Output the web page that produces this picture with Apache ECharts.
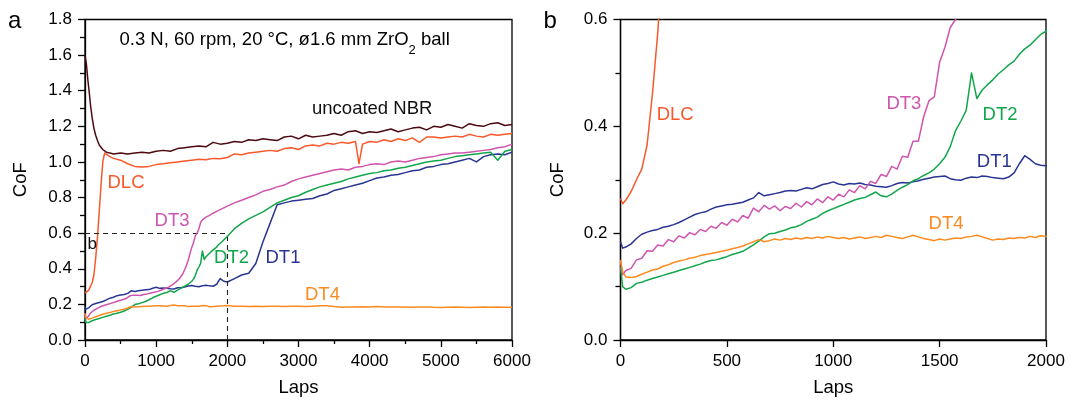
<!DOCTYPE html>
<html><head><meta charset="utf-8">
<script src="https://cdn.jsdelivr.net/npm/echarts@6/dist/echarts.min.js"></script>
<style>html,body{margin:0;padding:0;background:#fff}#c{width:1070px;height:402px}</style>
</head><body><div id="c"></div>
<script>
// ---------- DATA ----------
const lapsDT = [
0,10,25,50,75,100,125,150,175,200,
225,250,275,300,325,350,375,400,425,450,
475,500,525,550,575,600,625,650,675,700,
725,750,775,800,825,850,875,900,925,950,
975,1000,1025,1050,1075,1100,1125,1150,1175,1200,
1225,1250,1275,1300,1325,1350,1375,1400,1425,1450,
1475,1500,1525,1550,1575,1600,1625,1650,1675,1700,
1725,1750,1775,1800,1825,1850,1875,1900,1925,1950,
1975,2000,2100,2200,2300,2400,2500,2600,2700,2800,
2900,3000,3100,3200,3300,3400,3500,3600,3700,3800,
3900,4000,4100,4200,4300,4400,4500,4600,4700,4800,
4900,5000,5100,5200,5300,5400,5500,5600,5700,5800,
5900,6000];
const dt1 = [
0.184,0.172,0.174,0.180,0.190,0.198,0.202,0.205,0.207,0.211,
0.213,0.216,0.220,0.225,0.230,0.235,0.238,0.240,0.245,0.249,
0.251,0.253,0.254,0.256,0.258,0.262,0.266,0.276,0.270,0.272,
0.274,0.276,0.279,0.280,0.279,0.282,0.285,0.283,0.287,0.291,
0.293,0.296,0.292,0.290,0.293,0.292,0.294,0.291,0.290,0.288,
0.287,0.286,0.289,0.293,0.295,0.294,0.296,0.298,0.301,0.303,
0.305,0.306,0.307,0.302,0.300,0.299,0.303,0.305,0.304,0.307,
0.306,0.304,0.303,0.302,0.305,0.313,0.330,0.345,0.338,0.330,
0.327,0.326,0.345,0.365,0.375,0.430,0.550,0.655,0.760,0.770,
0.780,0.785,0.790,0.795,0.810,0.820,0.840,0.850,0.860,0.870,
0.880,0.895,0.910,0.915,0.925,0.930,0.940,0.950,0.955,0.970,
0.975,0.985,0.990,1.000,1.010,1.020,1.000,1.030,1.040,1.045,
1.040,1.055];
const dt2 = [
0.137,0.100,0.095,0.098,0.106,0.108,0.112,0.115,0.118,0.121,
0.124,0.127,0.130,0.133,0.136,0.139,0.142,0.146,0.149,0.150,
0.153,0.156,0.160,0.163,0.166,0.172,0.178,0.185,0.193,0.199,
0.200,0.203,0.206,0.210,0.212,0.216,0.222,0.226,0.230,0.237,
0.242,0.246,0.250,0.254,0.258,0.262,0.265,0.267,0.272,0.277,
0.270,0.268,0.273,0.280,0.286,0.291,0.298,0.302,0.308,0.313,
0.320,0.330,0.342,0.362,0.392,0.410,0.430,0.500,0.452,0.468,
0.478,0.487,0.498,0.506,0.515,0.522,0.535,0.545,0.552,0.562,
0.572,0.578,0.625,0.655,0.680,0.700,0.720,0.745,0.770,0.785,
0.800,0.810,0.830,0.845,0.860,0.870,0.880,0.890,0.905,0.915,
0.925,0.935,0.940,0.950,0.955,0.965,0.970,0.980,0.990,1.000,
1.005,1.010,1.020,1.030,1.035,1.040,1.045,1.050,1.055,1.010,
1.060,1.070];
const dt3 = [
0.148,0.122,0.130,0.134,0.150,0.153,0.167,0.166,0.178,0.176,
0.188,0.184,0.195,0.191,0.201,0.197,0.207,0.203,0.213,0.209,
0.220,0.215,0.226,0.221,0.233,0.228,0.247,0.240,0.252,0.245,
0.251,0.242,0.250,0.246,0.256,0.249,0.259,0.253,0.264,0.257,
0.268,0.262,0.273,0.268,0.281,0.276,0.289,0.283,0.297,0.293,
0.310,0.306,0.325,0.320,0.344,0.342,0.372,0.372,0.418,0.448,
0.455,0.520,0.548,0.585,0.600,0.625,0.660,0.675,0.680,0.690,
0.695,0.700,0.705,0.712,0.718,0.722,0.728,0.732,0.738,0.742,
0.748,0.752,0.770,0.785,0.800,0.815,0.835,0.845,0.860,0.870,
0.890,0.905,0.915,0.925,0.935,0.945,0.955,0.960,0.955,0.970,
0.975,0.985,0.990,0.985,1.000,1.005,1.000,1.010,1.020,1.025,
1.030,1.040,1.045,1.050,1.050,1.055,1.060,1.065,1.070,1.080,
1.085,1.100];
const dt4 = [
0.150,0.128,0.118,0.117,0.119,0.123,0.127,0.131,0.133,0.138,
0.141,0.145,0.148,0.150,0.153,0.155,0.158,0.160,0.162,0.164,
0.166,0.168,0.171,0.173,0.176,0.180,0.184,0.188,0.184,0.186,
0.189,0.187,0.190,0.188,0.191,0.189,0.192,0.190,0.193,0.191,
0.194,0.192,0.190,0.192,0.189,0.191,0.193,0.190,0.192,0.194,
0.192,0.196,0.194,0.192,0.190,0.193,0.196,0.193,0.190,0.188,
0.186,0.189,0.187,0.189,0.191,0.190,0.193,0.194,0.196,0.193,
0.190,0.187,0.189,0.188,0.191,0.190,0.192,0.191,0.194,0.192,
0.195,0.194,0.190,0.190,0.188,0.190,0.188,0.189,0.190,0.188,
0.190,0.190,0.188,0.190,0.192,0.193,0.188,0.184,0.186,0.185,
0.187,0.186,0.188,0.185,0.186,0.185,0.186,0.184,0.185,0.186,
0.184,0.183,0.184,0.185,0.184,0.183,0.184,0.185,0.184,0.185,
0.184,0.184];
const lapsNBR = [0,20,40,60,80,100,125,150,175,200,250,300,350,400,
500,600,700,800,900,1000,1100,1200,1300,1400,
1500,1600,1700,1800,1900,2000,2100,2200,2300,2400,
2500,2600,2700,2800,2900,3000,3100,3200,3300,3400,
3500,3600,3700,3800,3900,4000,4100,4200,4300,4400,
4500,4600,4700,4800,4900,5000,5100,5200,5300,5400,
5500,5600,5700,5800,5900,6000];
const nbr = [1.600,1.550,1.460,1.390,1.310,1.250,1.190,1.150,1.120,1.095,1.070,1.055,1.050,1.045,
1.050,1.045,1.050,1.055,1.050,1.060,1.065,1.060,1.075,1.080,
1.085,1.090,1.085,1.110,1.100,1.105,1.115,1.110,1.125,1.120,
1.130,1.125,1.120,1.140,1.145,1.130,1.150,1.140,1.145,1.150,
1.160,1.150,1.170,1.175,1.160,1.170,1.165,1.175,1.185,1.170,
1.180,1.190,1.195,1.180,1.200,1.195,1.210,1.200,1.190,1.215,
1.205,1.200,1.215,1.220,1.205,1.210];
const lapsDLC = [0,10,25,50,75,100,125,150,175,200,225,250,275,300,350,400,
500,600,700,800,900,1000,1100,1200,1300,1400,
1500,1600,1700,1800,1900,2000,2100,2200,2300,2400,
2500,2600,2700,2800,2900,3000,3100,3200,3300,3400,
3500,3600,3700,3800,3850,
3900,4000,4100,4200,4300,4400,4500,4600,4700,4800,
4900,5000,5100,5200,5300,5400,5500,5600,5700,5800,
5900,6000];
const dlc = [0.265,0.255,0.262,0.278,0.300,0.320,0.365,0.460,0.575,0.720,0.870,1.000,1.050,1.045,1.030,1.020,
1.010,0.990,0.975,0.972,0.975,0.985,0.990,0.995,1.000,1.005,
1.010,1.015,1.012,1.020,1.018,1.025,1.045,1.040,1.050,1.055,
1.060,1.065,1.060,1.075,1.080,1.070,1.090,1.095,1.090,1.105,
1.100,1.110,1.105,1.115,0.990,
1.100,1.115,1.110,1.125,1.115,1.130,1.120,1.135,1.110,1.140,
1.140,1.135,1.140,1.145,1.140,1.155,1.145,1.140,1.155,1.150,
1.155,1.160];

// zoomed window shown in panel b (dashed box in panel a)
const zoomLaps = 2000, zoomCoF = 0.6;

// in-plot labels: [text, laps, CoF, colorKey]
const labelsA = [
  ['uncoated NBR', 3190, 1.30, 'black'],
  ['DLC', 316, 0.88, 'DLC'],
  ['DT3', 977, 0.669, 'DT3'],
  ['DT2', 1813, 0.462, 'DT2'],
  ['DT1', 2536, 0.462, 'DT1'],
  ['DT4', 3091, 0.256, 'DT4']
];
const labelsB = [
  ['DLC', 170, 0.422, 'DLC'],
  ['DT3', 1250, 0.442, 'DT3'],
  ['DT2', 1702, 0.422, 'DT2'],
  ['DT1', 1675, 0.334, 'DT1'],
  ['DT4', 1448, 0.218, 'DT4']
];
const zoomMark = ['b', 35, 0.539];
const conditions = '0.3 N, 60 rpm, 20 °C, ø1.6 mm ZrO{sub|2} ball';

// ---------- STYLE ----------
const FONT = "'Liberation Sans', Arial, Helvetica, sans-serif";
const colors = {black:'#111', NBR:'#4d0a12', DLC:'#f9582a', DT1:'#2a3593', DT2:'#12a64b', DT3:'#cf55ae', DT4:'#fb8b20'};
const seriesDefs = [
  {key:'NBR', laps:lapsNBR, vals:nbr},
  {key:'DLC', laps:lapsDLC, vals:dlc},
  {key:'DT1', laps:lapsDT, vals:dt1},
  {key:'DT2', laps:lapsDT, vals:dt2},
  {key:'DT3', laps:lapsDT, vals:dt3},
  {key:'DT4', laps:lapsDT, vals:dt4}
];
function pairs(xs, ys){ return xs.map((x,i)=>[x, ys[i]]); }

const axLine = {show:true, onZero:false, lineStyle:{color:'#000', width:1.3}};
function xAx(g, max, interval, minor){
  return {type:'value', gridIndex:g, min:0, max:max, interval:interval,
    axisLine:axLine,
    axisTick:{show:true, inside:false, length:7, lineStyle:{color:'#000', width:1.3}},
    minorTick:{show:minor, splitNumber:2, length:4, lineStyle:{color:'#000', width:1.3}},
    splitLine:{show:false}, minorSplitLine:{show:false},
    axisLabel:{color:'#000', fontSize:17, fontFamily:FONT, margin:13, showMinLabel:true, showMaxLabel:true, hideOverlap:false,
      formatter:function(v){return String(Math.round(v));}},
    name:'Laps', nameLocation:'middle', nameGap:38,
    nameTextStyle:{color:'#000', fontSize:18.5, fontFamily:FONT}};
}
function yAx(g, max, gap){
  return {type:'value', gridIndex:g, min:0, max:max, interval:0.2,
    axisLine:axLine,
    axisTick:{show:true, inside:false, length:7, lineStyle:{color:'#000', width:1.3}},
    minorTick:{show:true, splitNumber:2, length:5, lineStyle:{color:'#000', width:1.3}},
    splitLine:{show:false}, minorSplitLine:{show:false},
    axisLabel:{color:'#000', fontSize:17, fontFamily:FONT, margin:13, showMinLabel:true, showMaxLabel:true, hideOverlap:false,
      formatter:function(v){return v.toFixed(1);}},
    name:'CoF', nameLocation:'middle', nameGap:gap,
    nameTextStyle:{color:'#000', fontSize:18.5, fontFamily:FONT}};
}

const series = [];
[0,1].forEach(function(g){
  seriesDefs.forEach(function(d, i){
    const s = {type:'line', xAxisIndex:g, yAxisIndex:g, data:pairs(d.laps, d.vals),
      showSymbol:false, symbol:'none', silent:true, animation:false, clip:true, z:2+i,
      lineStyle:{color:colors[d.key], width:1.5, join:'round'}, itemStyle:{color:colors[d.key]}};
    if (g===0 && i===0){
      s.markLine = {silent:true, symbol:['none','none'], animation:false, label:{show:false},
        lineStyle:{type:[5,4], color:'#222', width:1.1},
        emphasis:{disabled:true},
        data:[[{coord:[0,zoomCoF]},{coord:[zoomLaps,zoomCoF]}],[{coord:[zoomLaps,0]},{coord:[zoomLaps,zoomCoF]}]]};
    }
    series.push(s);
  });
});

const gridBase = {show:true, borderColor:'#000', borderWidth:1.3, backgroundColor:'transparent', containLabel:false, outerBoundsMode:'none'};
const option = {
  animation:false,
  backgroundColor:'#fff',
  grid:[
    Object.assign({left:85, top:19.5, width:427, height:320.5}, gridBase),
    Object.assign({left:620.5, top:19.5, width:425.5, height:320.5}, gridBase)
  ],
  xAxis:[xAx(0, 6000, 1000, true), xAx(1, zoomLaps, 500, false)],
  yAxis:[yAx(0, 1.8, 55), yAx(1, zoomCoF, 53.5)],
  series:series
};

const chart = echarts.init(document.getElementById('c'), null, {renderer:'canvas'});
chart.setOption(option);

const graphics = [];
function addLabel(g, lab, size){
  const p = chart.convertToPixel({xAxisIndex:g, yAxisIndex:g}, [lab[1], lab[2]]);
  graphics.push({type:'text', x:p[0], y:p[1], silent:true, z:100,
    style:{text:lab[0], fill:colors[lab[3]] || colors.black, fontSize:size, fontFamily:FONT,
      align:'left', verticalAlign:'middle', textAlign:'left', textVerticalAlign:'middle'}});
}
labelsA.forEach(function(l){ addLabel(0, l, 18.5); });
labelsB.forEach(function(l){ addLabel(1, l, 18.5); });
addLabel(0, [zoomMark[0], zoomMark[1], zoomMark[2], 'black'], 17);

graphics.push({type:'text', x:8, y:21, silent:true, z:100,
  style:{text:'a', fill:'#000', fontSize:24, fontFamily:FONT, align:'left', verticalAlign:'middle'}});
graphics.push({type:'text', x:543.5, y:21.5, silent:true, z:100,
  style:{text:'b', fill:'#000', fontSize:24, fontFamily:FONT, align:'left', verticalAlign:'middle'}});
graphics.push({type:'text', x:119.5, y:40, silent:true, z:100,
  style:{text:conditions, fill:'#000', fontSize:18.5, fontFamily:FONT, lineHeight:34,
    align:'left', verticalAlign:'middle',
    rich:{sub:{fontSize:13, fontFamily:FONT, lineHeight:13, verticalAlign:'bottom', fill:'#000'}}}});

chart.setOption({graphic:graphics});
</script>
</body></html>
